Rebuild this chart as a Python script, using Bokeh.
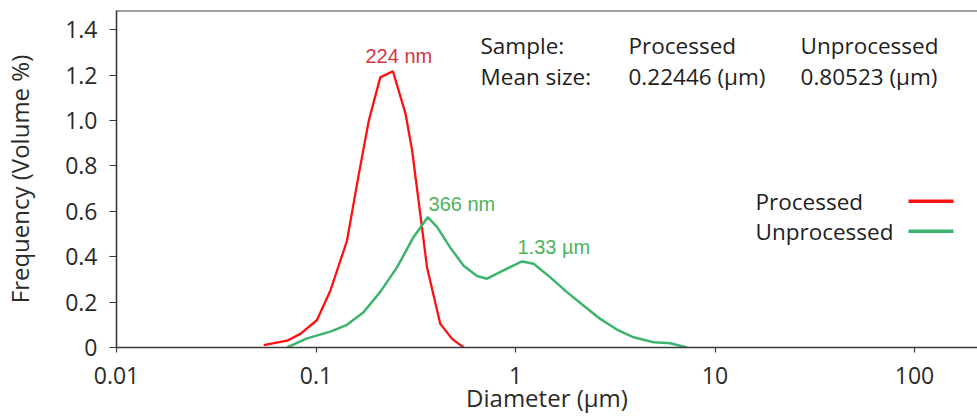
from bokeh.plotting import figure
from bokeh.models import (Range1d, FixedTicker, CustomJSTickFormatter, Label, Span)
from bokeh.embed import file_html
from bokeh.resources import INLINE

# ---------------- data ----------------
processed_d = [0.0547, 0.0716, 0.0835, 0.101, 0.118, 0.143, 0.164, 0.184, 0.210,
               0.243, 0.281, 0.303, 0.333, 0.360, 0.420, 0.481, 0.550]
processed_v = [0.01, 0.03, 0.06, 0.12, 0.25, 0.47, 0.765, 1.0, 1.19,
               1.217, 1.03, 0.87, 0.59, 0.354, 0.104, 0.038, 0.0]

unprocessed_d = [0.0716, 0.0902, 0.118, 0.143, 0.173, 0.210, 0.255, 0.308, 0.363,
                 0.405, 0.471, 0.550, 0.641, 0.720, 0.871, 1.078, 1.233, 1.49,
                 1.81, 2.19, 2.66, 3.22, 3.91, 4.92, 5.97, 7.23]
unprocessed_v = [0.0, 0.04, 0.07, 0.10, 0.155, 0.245, 0.354, 0.486, 0.574,
                 0.53, 0.44, 0.36, 0.315, 0.303, 0.34, 0.379, 0.369, 0.31,
                 0.244, 0.185, 0.126, 0.079, 0.045, 0.023, 0.019, 0.0]

x_ticks = [0.01, 0.1, 1, 10, 100]
y_ticks = [0, 0.2, 0.4, 0.6, 0.8, 1.0, 1.2, 1.4]

series_names = ["Processed", "Unprocessed"]
mean_sizes = ["0.22446 (µm)", "0.80523 (µm)"]
peak_labels = ["224 nm", "366 nm", "1.33 µm"]

RED = "#ff1010"
GREEN = "#3cb46e"
RED_TXT = "#d8343f"
GREEN_TXT = "#4cb45a"
FONT = "Open Sans"
Y_TOP = 1.4846
DY = 0.031  # text baseline correction

p = figure(width=977, height=416, x_axis_type="log",
           x_range=Range1d(0.01, 206.9), y_range=Range1d(0, Y_TOP),
           output_backend="svg", toolbar_location=None,
           min_border_left=116, min_border_right=0, min_border_top=10,
           min_border_bottom=69)
p.outline_line_color = None
p.background_fill_color = "white"
p.grid.visible = False

# axes
for ax in (p.xaxis[0], p.yaxis[0]):
    ax.axis_line_color = "#3a3a3a"
    ax.axis_line_width = 1.6
    ax.major_tick_line_color = "#3a3a3a"
    ax.major_tick_line_width = 1.2
    ax.major_tick_in = 0
    ax.minor_tick_line_color = None
    ax.major_label_text_font = FONT
    ax.major_label_text_font_size = "23px"
    ax.major_label_text_color = "#2a2a2a"
    ax.axis_label_text_font = FONT
    ax.axis_label_text_font_size = "24px"
    ax.axis_label_text_font_style = "normal"
    ax.axis_label_text_color = "#2a2a2a"

p.xaxis.ticker = FixedTicker(ticks=x_ticks, minor_ticks=[])
p.xaxis.formatter = CustomJSTickFormatter(
    code="return tick < 1 ? tick.toPrecision(1) : tick.toFixed(0);")
p.xaxis.major_tick_out = 5
p.xaxis.major_label_standoff = 14
p.xaxis.axis_label = "Diameter (µm)"
p.xaxis.axis_label_standoff = -6

p.yaxis.ticker = FixedTicker(ticks=y_ticks, minor_ticks=[])
p.yaxis.formatter = CustomJSTickFormatter(
    code="return tick == 0 ? '0' : tick.toFixed(1);")
p.yaxis.major_tick_out = 7
p.yaxis.major_label_standoff = 12
p.yaxis.axis_label = "Frequency (Volume %)"
p.yaxis.axis_label_standoff = 26

# top border
p.add_layout(Span(location=Y_TOP, dimension="width", line_color="#3a3a3a",
                  line_width=2))

# curves
p.line(processed_d, processed_v, line_color=RED, line_width=2.3)
p.line(unprocessed_d, unprocessed_v, line_color=GREEN, line_width=2.5)

# peak annotations
for txt, x, y, c in [(peak_labels[0], 0.1770, 1.251, RED_TXT),
                     (peak_labels[1], 0.3664, 0.599, GREEN_TXT),
                     (peak_labels[2], 1.023, 0.410, GREEN_TXT)]:
    p.add_layout(Label(x=x, y=y + DY, text=txt, text_color=c,
                       text_font="Liberation Sans", text_font_size="20px",
                       text_baseline="alphabetic", text_align="left"))

# header table
col_x = [0.6679, 3.685, 26.83]
row_y = [1.301, 1.162]
rows = [["Sample:"] + series_names, ["Mean size:"] + mean_sizes]
for r, yy in zip(rows, row_y):
    for t, xx in zip(r, col_x):
        p.add_layout(Label(x=xx, y=yy + DY, text=t, text_color="#1e1e1e",
                           text_font=FONT, text_font_size="22.5px",
                           text_baseline="alphabetic", text_align="left"))

# custom legend (text left, line swatch right)
leg_text_y = [0.611, 0.479]
leg_line_y = [0.6445, 0.5123]
for name, ty, ly, c in zip(series_names, leg_text_y, leg_line_y, [RED, GREEN]):
    p.add_layout(Label(x=15.96, y=ty + DY, text=name, text_color="#1e1e1e",
                       text_font=FONT, text_font_size="22.5px",
                       text_baseline="alphabetic", text_align="left"))
    p.line([93.3, 156.9], [ly, ly], line_color=c, line_width=3.5)

open("out.html", "w").write(file_html(p, INLINE))
